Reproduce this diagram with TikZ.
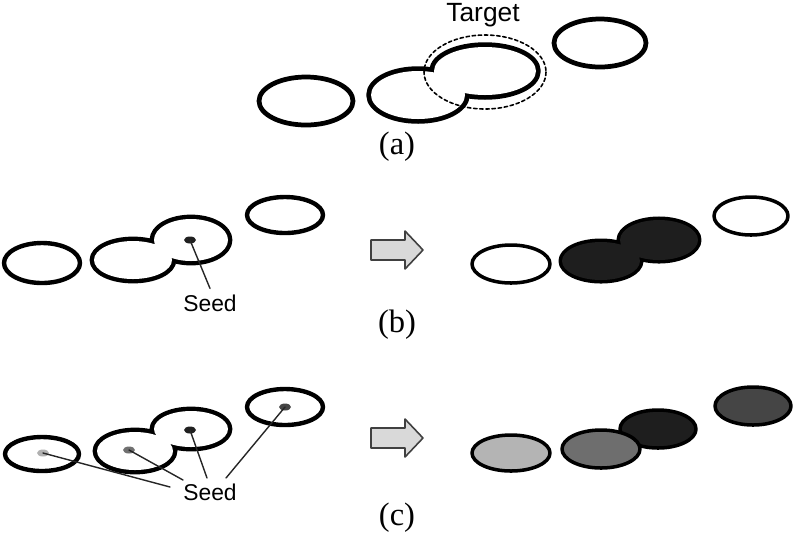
\documentclass[tikz,border=0pt]{standalone}
\usepackage{fontspec}
\setmainfont{Liberation Serif}
\setsansfont{Liberation Sans}
\usetikzlibrary{shapes.geometric}
\definecolor{seedlight}{HTML}{B0B0B0}
\definecolor{seedmid}{HTML}{707070}
\definecolor{seeddark}{HTML}{202020}
\definecolor{seedgrey}{HTML}{454545}
\definecolor{celllight}{HTML}{B4B4B4}
\definecolor{cellmid}{HTML}{6E6E6E}
\definecolor{celldark}{HTML}{1E1E1E}
\definecolor{cellgrey}{HTML}{454545}

\begin{document}
\begin{tikzpicture}[x=0.02cm, y=-0.02cm, line cap=round, line join=round,
    cell/.style={line width=2.5pt},
    filledcell/.style={line width=2pt, draw=black},
    seeddot/.style={ellipse, inner sep=0pt, minimum width=0.24cm, minimum height=0.14cm},
    seedline/.style={line width=0.8pt, color=black!85},
    tag/.style={font=\sffamily\fontsize{13}{15}\selectfont},
    panel/.style={font=\fontsize{18.5}{20}\selectfont},
    bigarrow/.style={line width=0.9pt, draw=black!75, fill=black!15}]
  \useasboundingbox (0,0) rectangle (797,539);

  % (a)
  \draw[line width=2.7pt] (306,101) ellipse [x radius=47, y radius=24];
  \draw[line width=2.7pt] (600,43) ellipse [x radius=46, y radius=24];
  \draw[line width=5.4pt] (418,95) ellipse [x radius=47, y radius=24]
    (485,71) ellipse [x radius=51, y radius=24];
  \fill[white] (418,95) ellipse [x radius=47, y radius=24]
    (485,71) ellipse [x radius=51, y radius=24];
  \draw[dash pattern=on 2pt off 1.5pt, line width=0.9pt] (485,72) ellipse [x radius=61, y radius=37];
  \node[font=\sffamily\fontsize{15}{17}\selectfont] (target) at (483,15) {Target};
  \node[panel] (capa) at (397,147) {(a)};

  % (b)
  \draw[cell] (42,263) ellipse [x radius=38, y radius=20];
  \draw[cell] (285,215) ellipse [x radius=38, y radius=18];
  \draw[line width=5pt] (133,260) ellipse [x radius=39, y radius=19]
    (191,240) ellipse [x radius=37, y radius=21];
  \fill[white] (133,260) ellipse [x radius=39, y radius=19]
    (191,240) ellipse [x radius=37, y radius=21];
  \node[seeddot, fill=seeddark] (seedb) at (190,240) {};
  \node[tag] (seedlabb) at (210,303) {Seed};
  \draw[seedline] (seedb.center) -- (seedlabb.north);

  \draw[filledcell] (511,264) ellipse [x radius=39, y radius=19];
  \draw[line width=4pt] (601,261) ellipse [x radius=39, y radius=19]
    (659,240) ellipse [x radius=39, y radius=20];
  \fill[celldark] (601,261) ellipse [x radius=39, y radius=19]
    (659,240) ellipse [x radius=39, y radius=20];
  \draw[filledcell] (751,216) ellipse [x radius=37, y radius=19];
  \node[panel] (capb) at (397,325) {(b)};

  % (c)
  \draw[cell] (42,454) ellipse [x radius=37, y radius=17];
  \draw[cell] (285,407) ellipse [x radius=38, y radius=18];
  \draw[line width=5pt] (135,451) ellipse [x radius=38, y radius=19]
    (191,429) ellipse [x radius=37, y radius=18];
  \fill[white] (135,451) ellipse [x radius=38, y radius=19]
    (191,429) ellipse [x radius=37, y radius=18];
  \node[seeddot, fill=seedlight] (seedc1) at (43,453) {};
  \node[seeddot, fill=seedmid] (seedc2) at (129,450) {};
  \node[seeddot, fill=seeddark] (seedc3) at (190,430) {};
  \node[seeddot, fill=seedgrey] (seedc4) at (285,407) {};
  \node[tag] (seedlabc) at (210,492) {Seed};
  \coordinate (endc1) at (170,487);
  \coordinate (endc2) at (183,480);
  \coordinate (endc3) at (207,478);
  \coordinate (endc4) at (226,478);
  \foreach \i in {1,...,4}
    \draw[seedline] (seedc\i.center) -- (endc\i);

  \draw[filledcell, fill=celllight] (511,453) ellipse [x radius=39, y radius=18];
  \draw[filledcell, fill=celldark] (658,429) ellipse [x radius=38, y radius=19];
  \draw[filledcell, fill=cellmid] (601,449) ellipse [x radius=39, y radius=19];
  \draw[filledcell, fill=cellgrey] (753,406) ellipse [x radius=38, y radius=19];
  \node[panel] (capc) at (397,518) {(c)};

  % arrows
  \foreach \ay in {250,438}
    \draw[bigarrow] (371,\ay-10) -- (405,\ay-10) -- (405,\ay-19) -- (423,\ay)
      -- (405,\ay+19) -- (405,\ay+10) -- (371,\ay+10) -- cycle;
\end{tikzpicture}
\end{document}
